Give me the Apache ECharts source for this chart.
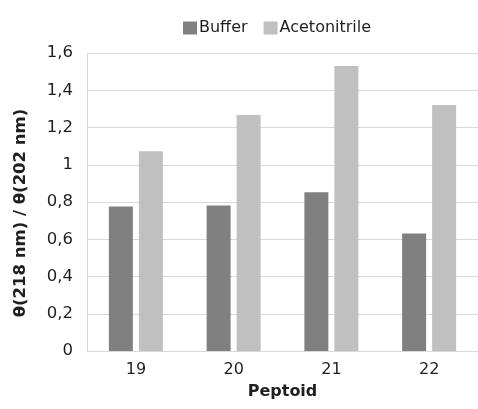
<!DOCTYPE html>
<html>
<head>
<meta charset="utf-8">
<script src="https://cdn.jsdelivr.net/npm/echarts@6/dist/echarts.min.js"></script>
<style>
  html, body { margin: 0; padding: 0; background: #fff; }
  #chart { width: 478px; height: 409px; }
</style>
</head>
<body>
<div id="chart"></div>
<script>
var categories = ['19', '20', '21', '22'];
var bufferValues = [0.776, 0.781, 0.853, 0.631];
var acetonitrileValues = [1.073, 1.267, 1.530, 1.321];

var font = 'DejaVu Sans';
var chart = echarts.init(document.getElementById('chart'), null, { renderer: 'canvas' });

chart.setOption({
    animation: false,
    backgroundColor: '#fff',
    legend: {
        top: 15,
        left: 178,
        itemWidth: 14,
        itemHeight: 13,
        itemGap: 16,
        icon: 'rect',
        textStyle: { fontFamily: font, fontSize: 16, color: '#1f1f1f', padding: [0, 0, 0, -3] },
        data: ['Buffer', 'Acetonitrile']
    },
    grid: { left: 87, right: 0, top: 53, bottom: 58 },
    xAxis: {
        type: 'category',
        data: categories,
        name: 'Peptoid',
        nameLocation: 'middle',
        nameGap: 33,
        nameTextStyle: { fontFamily: font, fontSize: 16, fontWeight: 'bold', color: '#1f1f1f' },
        axisLine: { lineStyle: { color: '#d9d9d9' } },
        axisTick: { show: false },
        axisLabel: { fontFamily: font, fontSize: 16, color: '#1f1f1f', margin: 11 }
    },
    yAxis: {
        type: 'value',
        min: 0,
        max: 1.6,
        interval: 0.2,
        name: 'θ(218 nm) / θ(202 nm)',
        nameLocation: 'middle',
        nameGap: 58,
        nameTextStyle: {
            fontFamily: font, fontSize: 16.5, fontWeight: 'bold', color: '#1f1f1f',
            padding: [0, 22, 0, 0]
        },
        axisLine: { show: true, lineStyle: { color: '#d9d9d9' } },
        axisTick: { show: false },
        splitLine: { lineStyle: { color: '#d9d9d9' } },
        axisLabel: {
            fontFamily: font,
            fontSize: 16.5,
            color: '#1f1f1f',
            margin: 14,
            formatter: function (v) {
                return String(+v.toFixed(1)).replace('.', ',');
            }
        }
    },
    series: [
        {
            name: 'Buffer',
            type: 'bar',
            data: bufferValues,
            barWidth: 24,
            barGap: '25%',
            itemStyle: { color: '#808080' }
        },
        {
            name: 'Acetonitrile',
            type: 'bar',
            data: acetonitrileValues,
            barWidth: 24,
            itemStyle: { color: '#c0c0c0' }
        }
    ]
});
</script>
</body>
</html>
